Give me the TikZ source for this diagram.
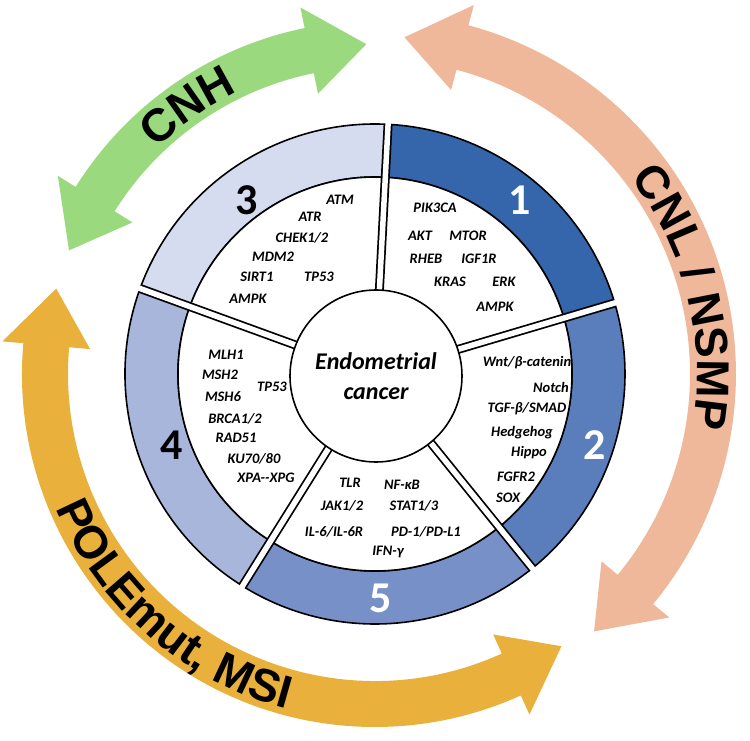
\documentclass[tikz,border=0pt]{standalone}
\usepackage{fontspec}
\setsansfont{Liberation Sans}
\newfontfamily\carl{Carlito}
\usetikzlibrary{decorations.text}
\definecolor{bandA}{HTML}{3565AA}
\definecolor{bandB}{HTML}{5A7DBB}
\definecolor{bandC}{HTML}{D6DCEF}
\definecolor{bandD}{HTML}{A8B6DC}
\definecolor{bandE}{HTML}{7890C8}
\definecolor{cnhgreen}{HTML}{9AD97E}
\definecolor{cnlpink}{HTML}{EFB89A}
\definecolor{polegold}{HTML}{E9B13C}
% fat double-headed arc arrow: colour, radius, start, end
\newcommand\fatarc[4]{%
  \pgfmathsetmacro\rr{#2}\pgfmathsetmacro\sa{#3+10}\pgfmathsetmacro\ea{#4-10}
  \fill[#1] (#3:\rr) -- (\sa:\rr+44) -- (\sa:\rr+23)
    arc[start angle=\sa, end angle=\ea, radius=\rr+23]
    -- (\ea:\rr+44) -- (#4:\rr) -- (\ea:\rr-44) -- (\ea:\rr-23)
    arc[start angle=\ea, end angle=\sa, radius=\rr-23]
    -- (\sa:\rr-44) -- cycle;}
\begin{document}
\begin{tikzpicture}[x=1pt,y=1pt,
  gene/.style={font=\carl\bfseries\itshape\fontsize{14.5}{15}\selectfont, inner sep=0},
  num/.style={font=\carl\bfseries\fontsize{44}{44}\selectfont, inner sep=0},
  ring/.style={draw=black, line width=1.6pt},
  arclab/.style={decorate, decoration={text along path, text align=center,
    text={|\sffamily\bfseries\fontsize{46}{46}\selectfont|#1}}}]
	\useasboundingbox (-375,-367) rectangle (375,374);

	% arrows
	\fatarc{cnhgreen}{330}{91.5}{158}
	\fatarc{cnlpink}{338}{-49.6}{85}
	\fatarc{polegold}{330}{165}{304.4}
	\path[arclab={CNH}] (138:314) arc[start angle=138, end angle=112, radius=314];
	\path[arclab={CNL / NSMP}] (48:322) arc[start angle=48, end angle=-20, radius=322];
	\path[arclab={POLEmut, MSI}] (186:346) arc[start angle=186, end angle=272, radius=346];

	% bands
	\foreach \a/\b/\c in {16.5/87/bandA, 87/160/bandC, 160/238/bandD, 238/309/bandE, -51/16.5/bandB} {
		\filldraw[ring, fill=\c] (\a:250) arc[start angle=\a, end angle=\b, radius=250]
			-- (\b:197) arc[start angle=\b, end angle=\a, radius=197] -- cycle;
	}
	\filldraw[ring, fill=white] (0,0) circle[radius=197];
	\foreach \a in {87,16.5,-51,-122,160} {
		\draw[line width=9pt] (\a:80) -- (\a:250);
		\draw[line width=5.5pt, white] (\a:78) -- (\a:252);
	}
	\node[ring, fill=white, circle, minimum size=172pt, align=center,
		font=\carl\bfseries\itshape\fontsize{24}{30}\selectfont] (core) at (1,-2) {Endometrial\\cancer};

	\begin{scope}[shift={(-375,374)}, yscale=-1]
		\node[num] (n1) at (520,200) {\textcolor{white}{1}};
		\node[num] (n2) at (595,445) {\textcolor{white}{2}};
		\node[num] (n3) at (247,200) {3};
		\node[num] (n4) at (172,445) {4};
		\node[num] (n5) at (381,598) {\textcolor{white}{5}};
		\foreach \t/\x/\y [count=\i] in {PIK3CA/435/208, AKT/420/236, MTOR/468/236, RHEB/426/259,
			IGF1R/479/259, KRAS/450/282, ERK/504/282, AMPK/495/307,
			ATM/340/200, ATR/310/217, CHEK1\slash 2/302/238, MDM2/273/257, SIRT1/257/277,
			TP53/319/277, AMPK/248/299,
			Wnt\slash β-catenin/527/363, Notch/551/387, TGF-β\slash SMAD/527/409, Hedgehog/522/433,
			Hippo/529/453, FGFR2/516/477, SOX/508/498,
			MLH1/226/355, MSH2/220/375, TP53/272/387, MSH6/223/397, BRCA1\slash 2/235/419,
			RAD51/236/438, KU70\slash 80/254/459, XPA--XPG/266/478,
			TLR/350/483, NF-κB/402/485, JAK1\slash 2/342/506, STAT1\slash 3/414/506,
			IL-6\slash IL-6R/334/532, PD-1\slash PD-L1/426/532, IFN-γ/388/552} {
			\node[gene] (g\i) at (\x,\y) {\t};
		}
	\end{scope}
\end{tikzpicture}
\end{document}
